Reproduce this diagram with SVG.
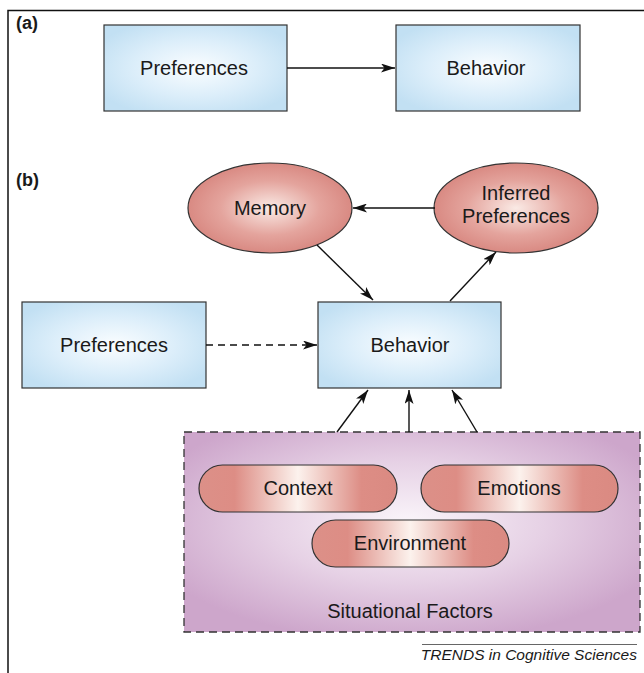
<svg xmlns="http://www.w3.org/2000/svg" width="644" height="673" viewBox="0 0 644 673">
<style>
text{font-family:"Liberation Sans",Arial,sans-serif;fill:#1a1a1a}
.lbl{font-size:20px;text-anchor:middle}
.tag{font-size:18px;font-weight:bold}
.box{fill:url(#gBlue);stroke:#333;stroke-width:1.2}
.ell{fill:url(#gRed);stroke:#333;stroke-width:1.2}
.pill{fill:url(#gPill);stroke:#333;stroke-width:1.2}
.con{stroke:#111;stroke-width:1.4;fill:none;marker-end:url(#ah)}
.dash{stroke-dasharray:7 5}
</style>
<defs>
<radialGradient id="gBlue" cx="0.5" cy="0.5" r="0.6">
<stop offset="0" stop-color="#fafdff"/>
<stop offset="0.55" stop-color="#dceefa"/>
<stop offset="1" stop-color="#c2e0f3"/>
</radialGradient>
<radialGradient id="gRed" cx="0.5" cy="0.5" r="0.55">
<stop offset="0" stop-color="#faeae5"/>
<stop offset="0.55" stop-color="#e4a49d"/>
<stop offset="1" stop-color="#d6837c"/>
</radialGradient>
<linearGradient id="gPill" x1="0" y1="0" x2="1" y2="0">
<stop offset="0" stop-color="#dc9088"/>
<stop offset="0.18" stop-color="#dd8d85"/>
<stop offset="0.5" stop-color="#fcf2ed"/>
<stop offset="0.82" stop-color="#dd8d85"/>
<stop offset="1" stop-color="#da8a82"/>
</linearGradient>
<radialGradient id="gPurple" cx="0.49" cy="0.45" r="0.6">
<stop offset="0" stop-color="#faf5fa"/>
<stop offset="0.5" stop-color="#e6d1e5"/>
<stop offset="1" stop-color="#cda6cb"/>
</radialGradient>
<marker id="ah" viewBox="0 0 14 9" refX="14" refY="4.5" markerWidth="14" markerHeight="9" markerUnits="userSpaceOnUse" orient="auto">
<path d="M0,0 L14,4.5 L0,9 L3.5,4.5 z" fill="#111"/>
</marker>
</defs>

<path d="M8,673 V10.5 H644" fill="none" stroke="#111" stroke-width="1.5"/>
<text class="tag" x="16" y="29">(a)</text>
<text class="tag" x="16" y="186">(b)</text>

<g id="sit-factors">
<rect x="184" y="432" width="456" height="200" fill="url(#gPurple)" stroke="#333" stroke-width="1.3" stroke-dasharray="8 5"/>
<text class="lbl" x="410" y="618">Situational Factors</text>
</g>

<g id="a-preferences">
<rect class="box" x="104" y="25" width="183" height="86"/>
<text class="lbl" x="194" y="75">Preferences</text>
</g>
<g id="a-behavior">
<rect class="box" x="396" y="25" width="184" height="86"/>
<text class="lbl" x="486" y="75">Behavior</text>
</g>

<g id="memory">
<ellipse class="ell" cx="270" cy="208" rx="82" ry="45"/>
<text class="lbl" x="270" y="215">Memory</text>
</g>
<g id="inferred-preferences">
<ellipse class="ell" cx="516" cy="208" rx="82" ry="45"/>
<text class="lbl" x="516" y="200">Inferred</text>
<text class="lbl" x="516" y="223">Preferences</text>
</g>

<g id="b-preferences">
<rect class="box" x="22" y="302" width="184" height="86"/>
<text class="lbl" x="114" y="352">Preferences</text>
</g>
<g id="b-behavior">
<rect class="box" x="318" y="302" width="183" height="86"/>
<text class="lbl" x="410" y="352">Behavior</text>
</g>

<g id="context">
<rect class="pill" x="199" y="465" width="198" height="47" rx="23.5"/>
<text class="lbl" x="298" y="495">Context</text>
</g>
<g id="emotions">
<rect class="pill" x="421" y="465" width="197" height="47" rx="23.5"/>
<text class="lbl" x="519" y="495">Emotions</text>
</g>
<g id="environment">
<rect class="pill" x="312" y="520" width="197" height="47" rx="23.5"/>
<text class="lbl" x="410" y="550">Environment</text>
</g>

<g id="connectors">
<line class="con" x1="287" y1="68" x2="395" y2="68"/>
<line class="con" x1="435" y1="208" x2="353" y2="208"/>
<line class="con" x1="317" y1="245" x2="373" y2="300"/>
<line class="con" x1="450" y1="301" x2="496" y2="252"/>
<line class="con dash" x1="206" y1="345" x2="317" y2="345"/>
<line class="con" x1="337" y1="432" x2="368" y2="390"/>
<line class="con" x1="409" y1="432" x2="409" y2="390"/>
<line class="con" x1="477" y1="432" x2="452" y2="390"/>
</g>

<g id="credit">
<line x1="422" y1="644.5" x2="637" y2="644.5" stroke="#666" stroke-width="1"/>
<text x="637" y="660" font-size="15.5" font-style="italic" text-anchor="end">TRENDS in Cognitive Sciences</text>
</g>
</svg>
